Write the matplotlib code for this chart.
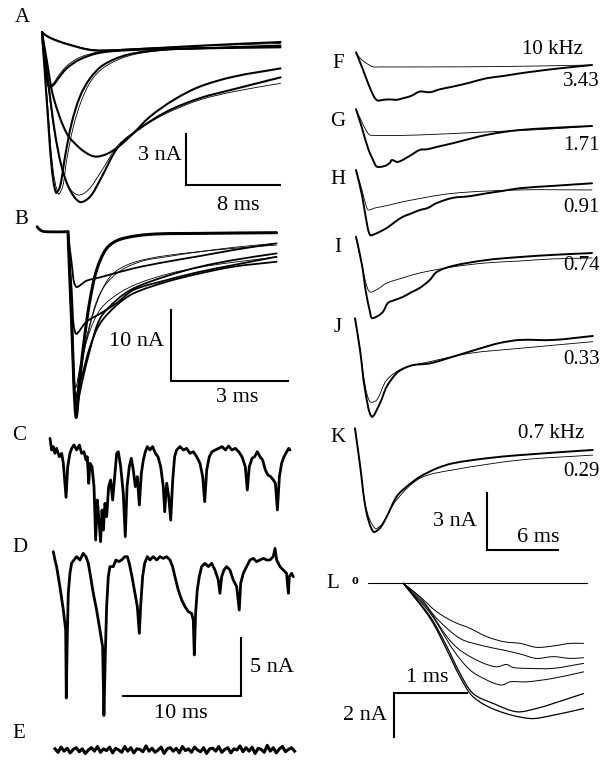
import numpy as np
import matplotlib
matplotlib.use("Agg")
import matplotlib.pyplot as plt
from matplotlib.path import Path
from matplotlib.patches import PathPatch

plt.rcParams['font.family'] = ['Liberation Serif', 'DejaVu Serif']

# ---------------- data (time in ms, current in nA) ----------------
# Panel A: EPSC waveforms, thick = recorded, thin = fit
A1_rec = [(0,0),(0.4,-0.24),(1.25,-0.51),(2.38,-0.76),(3.8,-1.02),(4.94,-1.10),(7.77,-1.02),(12.0,-0.86),(16.3,-0.71),(20.3,-0.59)]
A1_fit = [(0,0),(0.4,-0.20),(1.25,-0.47),(2.38,-0.73),(3.8,-0.98),(4.94,-1.06),(7.77,-0.98),(12.0,-0.86),(16.3,-0.76),(20.3,-0.67)]
A2_rec = [(0,0),(0.26,-2.04),(0.6,-3.25),(0.96,-3.12),(1.39,-2.73),(2.1,-2.14),(3.23,-1.61),(4.94,-1.22),(7.77,-1.06),(12.0,-0.98),(20.3,-0.90)]
A2_fit = [(0,0),(0.26,-1.94),(0.6,-3.12),(0.96,-3.02),(1.39,-2.59),(2.1,-2.0),(3.23,-1.49),(4.94,-1.16),(7.77,-1.02),(12.0,-0.94),(20.3,-0.86)]
A3_rec = [(0,0),(0.4,-4.0),(0.82,-7.92),(1.19,-9.45),(1.53,-9.1),(1.96,-7.33),(2.52,-5.37),(3.23,-3.8),(4.09,-2.73),(5.22,-1.94),(7.21,-1.35),(10.0,-1.06),(13.4,-0.96),(20.3,-0.80)]
A3_fit = [(0,0),(0.45,-4.0),(0.91,-7.92),(1.39,-9.53),(1.76,-9.1),(2.1,-7.53),(2.67,-5.57),(3.38,-4.0),(4.23,-2.82),(5.36,-2.04),(7.35,-1.41),(10.0,-1.1),(13.4,-0.98),(20.3,-0.88)]
A4_rec = [(0,0),(0.4,-1.65),(0.96,-3.8),(2.1,-5.96),(3.23,-6.84),(4.09,-7.24),(4.65,-7.33),(5.5,-7.18),(6.5,-6.75),(7.77,-5.96),(9.19,-4.98),(11.2,-4.0),(13.4,-3.22),(16.3,-2.63),(20.3,-2.14)]
A5_rec = [(0,0),(0.54,-3.02),(1.11,-5.96),(1.67,-7.92),(2.38,-9.29),(3.23,-10.0),(4.09,-9.69),(4.94,-8.71),(6.5,-6.75),(8.34,-5.67),(10.6,-4.69),(13.4,-3.9),(16.3,-3.37),(20.3,-2.67)]
A5_fit = [(0,0),(0.48,-2.92),(1.02,-5.76),(1.59,-7.73),(2.24,-9.1),(3.09,-9.59),(3.94,-9.29),(4.94,-8.31),(6.5,-6.65),(8.34,-5.67),(10.6,-4.78),(13.4,-4.0),(16.3,-3.51),(20.3,-3.02)]

# Panel B
B_base = [(-0.79,0.71),(-0.71,0.24),(-0.59,0.0),(0.0,0.0)]
B1 = [(0,0),(0.094,-13.0),(0.204,-26.2),(0.306,-20.5),(0.434,-14.4),(0.561,-9.67),(0.731,-5.42),(0.986,-2.36),(1.33,-1.08),(2.09,-0.38),(3.37,-0.24),(5.32,-0.14)]
B2 = [(0,0),(0.094,-4.48),(0.204,-7.78),(0.476,-6.93),(0.816,-6.46),(1.67,-5.19),(2.52,-4.25),(3.37,-3.44),(4.22,-2.59),(5.32,-1.65)]
B3 = [(0,0),(0.094,-8.25),(0.196,-14.4),(0.476,-12.7),(0.816,-11.6),(1.24,-10.1),(1.67,-8.25),(2.52,-6.84),(3.37,-5.66),(4.22,-4.72),(5.32,-3.54)]
B4 = [(0,0),(0.094,-13.0),(0.187,-24.3),(0.306,-20.5),(0.476,-15.3),(0.731,-10.1),(1.07,-6.37),(1.5,-4.72),(2.09,-3.77),(2.94,-3.07),(4.22,-2.36),(5.32,-1.89)]
B5 = [(0,0),(0.094,-13.0),(0.187,-23.3),(0.349,-20.5),(0.561,-16.3),(0.816,-13.0),(1.24,-10.4),(1.67,-8.73),(2.52,-7.08),(3.37,-5.9),(4.22,-4.95),(5.32,-4.25)]
B6 = [(0,0),(0.102,-13.0),(0.196,-25.2),(0.349,-21.5),(0.561,-16.7),(0.816,-12.3),(1.24,-9.67),(1.67,-8.02),(2.52,-6.27),(3.37,-4.95),(4.22,-4.01),(5.32,-3.07)]
B7 = [(0,0),(0.094,-13.0),(0.187,-23.8),(0.306,-19.6),(0.519,-13.9),(0.816,-8.73),(1.24,-5.9),(1.84,-4.25),(2.52,-3.54),(3.37,-2.83),(4.22,-2.22),(5.32,-1.65)]
B8 = [(0,0),(0.094,-12.0),(0.19,-22.0),(0.33,-18.5),(0.56,-14.0),(0.85,-10.8),(1.3,-8.7),(1.8,-7.3),(2.6,-5.9),(3.5,-4.9),(4.4,-4.2),(5.32,-3.6)]

# Panel C (spontaneous currents)
C_trace = [(0,1.26),(0.14,0.26),(0.28,0.55),(0.42,-0.03),(0.56,0.4),(0.79,-0.32),(0.99,-0.03),(1.13,-0.89),(1.36,-3.82),(1.5,-1.18),(1.69,-0.03),(1.84,0.4),(2.03,0.69),(2.26,0.26),(2.49,0.69),(2.68,-0.03),(2.88,0.11),(3.05,-0.6),(3.16,-0.32),(3.28,-2.61),(3.39,-0.89),(3.56,-1.18),(3.73,-2.9),(3.87,-7.5),(4.01,-4.05),(4.15,-5.78),(4.29,-7.64),(4.41,-4.91),(4.52,-6.64),(4.66,-4.34),(4.8,-5.49),(4.97,-2.9),(5.14,-2.33),(5.31,-4.05),(5.48,-2.04),(5.65,-0.03),(5.79,0.11),(5.99,-1.18),(6.21,-3.48),(6.38,-7.21),(6.53,-2.9),(6.72,-1.18),(6.89,-0.46),(7.06,-1.47),(7.23,-2.9),(7.4,-2.04),(7.57,-4.48),(7.74,-1.75),(7.91,-0.6),(8.08,0.11),(8.25,0.55),(8.47,0.26),(8.7,0.55),(8.93,-0.03),(9.15,-0.32),(9.38,-1.18),(9.6,-2.9),(9.72,-5.06),(9.89,-2.61),(10.06,-3.76),(10.23,-5.78),(10.4,-2.33),(10.56,-0.32),(10.73,0.26),(11.02,0.55),(11.3,0.26),(11.58,0.4),(11.86,-0.03),(12.15,0.11),(12.43,-0.32),(12.71,-0.89),(12.94,-2.04),(13.11,-4.2),(13.28,-1.47),(13.5,-0.32),(13.73,0.11),(14.01,0.26),(14.29,0.4),(14.58,0.55),(14.86,0.26),(15.14,0.6),(15.42,0.26),(15.71,0.4),(15.99,0.11),(16.27,-0.32),(16.55,-1.18),(16.72,-3.19),(16.89,-1.18),(17.12,-0.46),(17.34,-0.32),(17.57,0.11),(17.8,-0.32),(18.02,-0.6),(18.25,-1.47),(18.47,-1.9),(18.7,-2.04),(18.93,-2.33),(19.1,-2.61),(19.27,-4.91),(19.44,-2.04),(19.63,-0.89),(19.83,-0.32),(20.06,0.11),(20.23,0.4),(20.34,0.26)]

# Panel D
D_trace = [(0,0.72),(0.14,0),(0.28,-0.57),(0.56,-2.3),(0.85,-4.31),(1.05,-6.03),(1.1,-11.9),(1.19,-6.32),(1.27,-2.87),(1.41,-1.15),(1.55,-0.29),(1.75,0),(1.98,0.29),(2.26,0),(2.54,0.57),(2.77,0.29),(2.97,-0.29),(3.16,-1.44),(3.39,-2.87),(3.67,-4.31),(3.95,-6.03),(4.18,-7.47),(4.29,-13.4),(4.41,-8.05),(4.52,-4.02),(4.66,-1.44),(4.8,-0.57),(5.08,-0.57),(5.31,0),(5.54,-0.14),(5.79,0),(6.07,0.29),(6.27,0.29),(6.44,-0.29),(6.67,-1.44),(6.92,-2.87),(7.12,-4.02),(7.29,-6.32),(7.4,-4.02),(7.57,-1.44),(7.74,-0.29),(7.97,0.29),(8.19,0),(8.47,0.29),(8.76,0),(9.04,0.29),(9.32,0.14),(9.6,0.29),(9.89,0),(10.11,-0.57),(10.31,-1.44),(10.59,-2.59),(10.88,-3.45),(11.16,-4.02),(11.44,-4.45),(11.72,-4.6),(11.86,-5.17),(11.95,-8.19),(12.06,-4.6),(12.2,-2.59),(12.37,-1.44),(12.57,-0.57),(12.85,-0.29),(13.14,-0.57),(13.42,-0.29),(13.7,-0.86),(13.98,-1.72),(14.12,-2.87),(14.27,-1.44),(14.46,-0.86),(14.69,-0.57),(14.97,-0.86),(15.25,-1.72),(15.54,-2.3),(15.76,-4.31),(15.88,-2.01),(16.1,-1.15),(16.38,-0.57),(16.67,0),(16.95,0.14),(17.23,-0.14),(17.51,0),(17.8,0.14),(18.08,0),(18.36,0),(18.64,0.29),(18.79,1.0),(18.93,0),(19.21,-0.57),(19.49,-0.86),(19.77,-1.15),(19.92,-2.87),(20.0,-1.44),(20.2,-1.15),(20.34,-1.44)]

# Panel E (noise only)
E_values = [0.1,-0.2,0.25,-0.1,0.15,-0.25,0.05,0.2,-0.15,0.1,-0.3,0.0,0.2,-0.1,0.3,-0.2,0.1,-0.05,0.25,-0.25,
            0.15,0.0,-0.2,0.3,-0.1,0.2,-0.25,0.1,0.05,-0.15,0.35,-0.1,0.15,-0.2,0.0,0.25,-0.3,0.1,0.2,-0.1,
            0.15,-0.25,0.3,-0.05,0.1,-0.2,0.25,0.0,-0.15,0.2,-0.3,0.1,0.15,-0.1,0.3,-0.2,0.05,0.2,-0.25,0.1,
            0.0,0.35,-0.15,0.2,-0.1,0.25,-0.3,0.15,0.05,-0.2,0.4,-0.1,0.2,-0.25,0.1,0.3,-0.15,0.05,0.2,-0.1]
E_duration = 20.3

# Panels F-K: recorded (thick) and model (thin)
F_rec = [(0,0),(0.33,-0.51),(0.75,-1.19),(1.17,-1.88),(1.58,-2.41),(1.83,-2.54),(2.3,-2.5),(2.83,-2.48),(3.4,-2.5),(3.92,-2.42),(4.6,-2.3),(5.33,-2.07),(6.2,-2.1),(7.0,-1.95),(8.08,-1.81),(9.5,-1.6),(10.9,-1.37),(12.3,-1.25),(13.7,-1.11),(15.0,-1.0),(16.4,-0.89),(18.0,-0.78),(19.75,-0.67)]
F_fit = [(0,0),(0.33,-0.3),(0.83,-0.56),(1.42,-0.76),(2.0,-0.77),(5.33,-0.77),(12.0,-0.75),(19.75,-0.67)]
G_rec = [(0,0),(0.5,-0.98),(1.0,-2.04),(1.5,-2.77),(1.75,-3.02),(2.42,-2.98),(2.83,-2.82),(3.0,-2.67),(3.5,-2.77),(4.5,-2.45),(5.33,-2.14),(6.0,-2.1),(6.75,-1.98),(8.08,-1.79),(9.5,-1.56),(10.9,-1.35),(12.3,-1.2),(13.7,-1.09),(16.4,-0.98),(19.75,-0.88)]
G_fit = [(0,0),(0.5,-0.67),(0.83,-1.09),(1.17,-1.35),(2.0,-1.38),(5.33,-1.35),(10.9,-1.19),(16.2,-1.04),(19.75,-0.88)]
H_rec = [(0,0),(0.5,-1.32),(0.83,-2.53),(1.17,-3.42),(1.58,-3.37),(2.58,-3.05),(3.25,-2.74),(3.92,-2.46),(4.5,-2.32),(5.33,-2.11),(6.0,-2.0),(6.75,-1.74),(8.08,-1.47),(9.5,-1.38),(10.9,-1.23),(12.3,-1.1),(13.7,-0.96),(16.4,-0.84),(19.75,-0.70)]
H_fit = [(0,0),(0.5,-1.05),(0.83,-1.84),(1.03,-2.1),(1.58,-2.0),(2.83,-1.84),(3.92,-1.67),(8.08,-1.23),(13.7,-1.05),(19.75,-1.05)]
I_rec = [(0,0),(0.5,-1.49),(0.83,-2.91),(1.17,-3.96),(1.33,-4.28),(1.83,-4.17),(2.25,-3.96),(2.67,-3.49),(3.25,-3.33),(3.92,-3.17),(4.67,-2.91),(5.33,-2.7),(6.17,-2.28),(6.75,-1.86),(8.08,-1.54),(10.9,-1.23),(13.7,-1.07),(16.4,-0.96),(19.75,-0.86)]
I_fit = [(0,0),(0.5,-1.49),(0.83,-2.44),(1.17,-2.91),(1.83,-2.75),(2.58,-2.44),(3.92,-2.17),(5.33,-1.91),(8.08,-1.59),(10.9,-1.38),(13.7,-1.28),(16.4,-1.17),(19.75,-1.12)]
J_rec = [(0,0),(0.42,-1.67),(0.84,-3.77),(1.4,-5.18),(2.09,-4.47),(2.65,-3.6),(3.48,-2.89),(4.18,-2.61),(4.88,-2.46),(6.28,-2.37),(8.2,-2.02),(10.5,-1.58),(12.1,-1.3),(13.8,-1.14),(16.6,-1.14),(19.9,-0.93)]
J_fit = [(0,0),(0.42,-1.67),(0.84,-3.51),(1.26,-4.39),(1.82,-4.3),(2.65,-3.25),(4.02,-2.63),(6.28,-2.28),(9.62,-1.84),(13.8,-1.58),(19.9,-1.23)]
K_rec = [(0,0),(0.42,-1.93),(0.92,-4.3),(1.53,-5.44),(2.09,-5.25),(2.65,-4.65),(3.48,-3.6),(4.32,-3.07),(5.44,-2.55),(6.84,-2.11),(8.2,-1.84),(11.0,-1.58),(13.8,-1.41),(19.9,-1.14)]
K_fit = [(0,0),(0.42,-1.93),(0.92,-4.2),(1.67,-5.26),(2.26,-5.04),(3.48,-3.77),(5.44,-2.63),(8.2,-2.19),(13.8,-1.67),(19.9,-1.41)]
FK_labels = ["3.43", "1.71", "0.91", "0.74", "0.33", "0.29"]

# Panel L: onset of currents
L_traces = [
    [(0,0),(0.23,-0.62),(0.46,-1.31),(0.69,-1.77),(0.92,-2.08),(1.15,-2.46),(1.38,-2.69),(1.61,-2.77),(1.83,-2.95),(2.06,-2.89),(2.29,-2.77),(2.48,-2.77)],
    [(0,0),(0.23,-0.65),(0.46,-1.62),(0.78,-2.54),(1.06,-2.85),(1.38,-3.08),(1.61,-3.26),(1.83,-3.46),(2.06,-3.38),(2.29,-3.46),(2.48,-3.43)],
    [(0,0),(0.32,-1.08),(0.6,-2.46),(0.78,-3.08),(1.06,-3.62),(1.28,-3.85),(1.42,-3.74),(1.51,-3.88),(1.7,-3.92),(2.06,-3.92),(2.48,-3.69)],
    [(0,0),(0.37,-1.38),(0.69,-3.08),(0.92,-4.0),(1.15,-4.46),(1.35,-4.69),(1.47,-4.54),(1.7,-4.54),(2.06,-4.38),(2.48,-4.08)],
    [(0,0),(0.37,-1.54),(0.6,-2.92),(0.78,-4.15),(0.96,-5.08),(1.24,-5.54),(1.56,-5.92),(1.83,-5.77),(2.06,-5.54),(2.48,-5.08)],
    [(0,0),(0.37,-1.62),(0.6,-3.08),(0.78,-4.31),(0.96,-5.23),(1.28,-5.85),(1.74,-6.23),(2.06,-6.08),(2.48,-5.77)],
]
L_baseline = [(-0.48,0),(2.52,0)]

# ---------------- figure ----------------
W, H = 601, 761
fig = plt.figure(figsize=(W/100, H/100), dpi=100)
K = 'black'
FS = 15


def panel(box, origin, sx, sy):
    x1, y1, x2, y2 = box
    ox, oy = origin
    ax = fig.add_axes([x1/W, 1-y2/H, (x2-x1)/W, (y2-y1)/H])
    ax.set_xlim((x1-ox)/sx, (x2-ox)/sx)
    ax.set_ylim((oy-y2)/sy, (oy-y1)/sy)
    ax.axis('off')
    ax.patch.set_visible(False)
    return ax


def trace(ax, pts, lw):
    a = np.asarray(pts, float)
    ax.plot(a[:, 0], a[:, 1], color=K, lw=lw, solid_joinstyle='round',
            solid_capstyle='round', clip_on=False)


def smooth(ax, pts, lw):
    """Draw the measured points as a smooth Bezier path through them."""
    a = np.asarray(pts, float)
    n = len(a)
    disp = ax.transData.transform(a)
    seg = np.hypot(*np.diff(disp, axis=0).T)
    s = np.concatenate([[0], np.cumsum(seg)])
    d = np.zeros_like(a)
    d[0] = (a[1]-a[0])/(s[1]-s[0])
    d[-1] = (a[-1]-a[-2])/(s[-1]-s[-2])
    for i in range(1, n-1):
        d[i] = (a[i+1]-a[i-1])/(s[i+1]-s[i-1])
    verts = [a[0]]
    codes = [Path.MOVETO]
    for i in range(n-1):
        h = (s[i+1]-s[i])/3.0
        verts += [a[i]+d[i]*h, a[i+1]-d[i+1]*h, a[i+1]]
        codes += [Path.CURVE4]*3
    ax.add_patch(PathPatch(Path(verts, codes), fill=False, lw=lw, ec=K,
                           transform=ax.transData, clip_on=False,
                           joinstyle='round', capstyle='round'))


def scalebar(ax, t0, i0, dt, di, lw=1.5):
    ax.plot([t0, t0, t0+dt], [i0+di, i0, i0], color=K, lw=lw,
            solid_joinstyle='miter', clip_on=False)


def ptext(x, y, s, ha='center', va='center', size=FS, **kw):
    fig.text(x/W, 1-y/H, s, ha=ha, va=va, fontsize=size, **kw)

# Panel A
axA = panel((30, 25, 295, 215), (42, 32), 11.75, 17.0)
for tr in (A1_rec, A2_rec, A3_rec, A4_rec, A5_rec):
    smooth(axA, tr, 1.5)
for tr in (A1_fit, A2_fit, A3_fit, A5_fit):
    smooth(axA, tr, 0.6)
scalebar(axA, 12.26, -9.0, 8, 3)
ptext(182, 156, "3 nA", ha='right', size=16)
ptext(238, 205, "8 ms", size=16)
ptext(22, 17, "A")

# Panel B
axB = panel((30, 215, 295, 420), (68, 231.7), 39.2, 7.07)
smooth(axB, B_base, 2.0)
smooth(axB, B1, 2.2)
for tr in (B2, B3, B5, B6):
    smooth(axB, tr, 1.3)
for tr in (B4, B7, B8):
    smooth(axB, tr, 0.6)
scalebar(axB, 2.62, -21.07, 3, 10)
ptext(164, 341, "10 nA", ha='right', size=16)
ptext(237, 397, "3 ms", size=16)
ptext(21, 220, "B")

# Panel C
axC = panel((40, 425, 300, 545), (50, 453), 11.8, 11.6)
trace(axC, C_trace, 2.0)
ptext(19, 435, "C")

# Panel D
axD = panel((40, 545, 300, 725), (53.3, 560), 11.8, 11.6)
trace(axD, D_trace, 2.0)
scalebar(axD, 15.88, -11.72, -10, 0, lw=1.5)
axD.plot([15.88, 15.88], [-11.72, -6.72], color=K, lw=1.5, clip_on=False)
ptext(250, 667, "5 nA", ha='left', size=16)
ptext(181, 714, "10 ms", size=16)
ptext(20, 548, "D")

# Panel E
axE = panel((40, 725, 300, 761), (55, 750), 11.8, 11.6)
tE = np.linspace(0, E_duration, len(E_values))
axE.plot(tE, E_values, color=K, lw=2.2, clip_on=False)
ptext(19, 734, "E")

# Panels F-K
origins = [(356, 52.3), (356, 109.3), (356, 170), (356, 236.7), (355, 318.3), (355, 428.3)]
recs = [F_rec, G_rec, H_rec, I_rec, J_rec, K_rec]
fits = [F_fit, G_fit, H_fit, I_fit, J_fit, K_fit]
letters = ["F", "G", "H", "I", "J", "K"]
letter_y = [63, 122, 179, 247, 327, 438]
num_y = [82, 145, 208, 266, 360, 472]
axK = None
for org, rec, fit, let, ly, ny, lab in zip(origins, recs, fits, letters, letter_y, num_y, FK_labels):
    ax = panel((340, 30, 601, 570), org, 11.95, 19.0)
    smooth(ax, rec, 1.4)
    smooth(ax, fit, 0.6)
    ptext(338, ly, let)
    ptext(600, ny, lab, ha='right')
    axK = ax
scalebar(axK, 11.02, -6.41, 6, 3)
ptext(477, 522, "3 nA", ha='right', size=16)
ptext(538, 538, "6 ms", size=16)
ptext(552, 50, "10 kHz")
ptext(551, 433, "0.7 kHz")

# Panel L
axL = panel((340, 570, 601, 761), (403.3, 583.3), 72.7, 21.7)
trace(axL, L_baseline, 0.8)
for i, tr in enumerate(L_traces):
    smooth(axL, tr, 0.7 if i < 4 else 0.9)
axL.plot([-0.128, 0.872], [-5.07, -5.07], color=K, lw=1.5)
axL.plot([-0.128, -0.128], [-5.07, -7.07], color=K, lw=1.5)
ptext(427, 677, "1 ms", size=16)
ptext(387, 715, "2 nA", ha='right', size=16)
ptext(333, 584, "L")
ptext(355, 581, "o", size=10, fontweight='bold')

fig.savefig("out.png", dpi=100)
